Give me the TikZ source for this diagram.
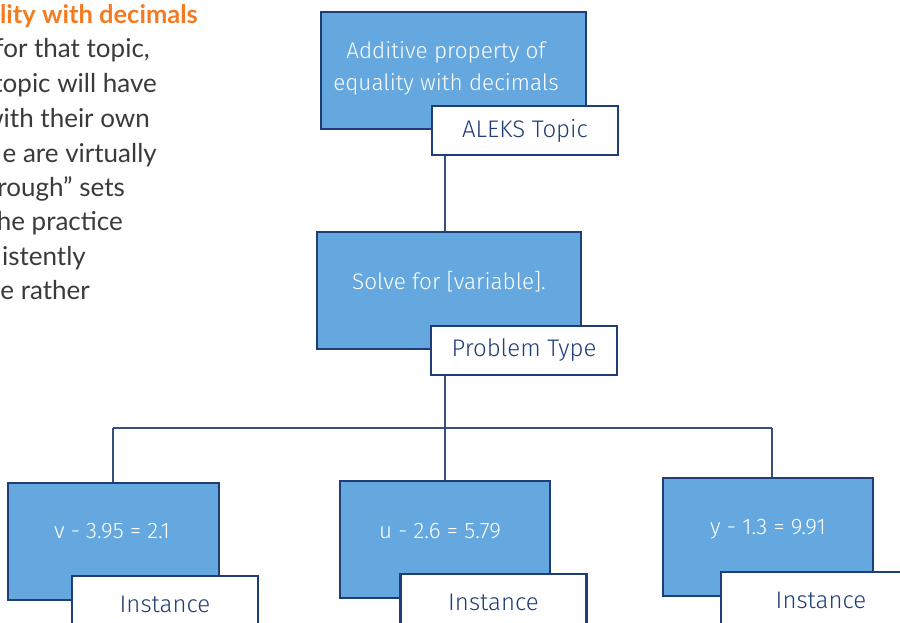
\documentclass[tikz,border=0pt]{standalone}
\usepackage{fontspec}
\setmainfont{Fira Sans}
\newfontfamily\lightfont{Fira Sans Light}
\newfontfamily\latofont{Lato}
\definecolor{boxblue}{HTML}{64A8DF}
\definecolor{navy}{HTML}{1F3E78}
\definecolor{linec}{HTML}{34507F}
\definecolor{orangec}{HTML}{F47B20}
\definecolor{textgray}{HTML}{3A3A3A}
\begin{document}
\begin{tikzpicture}[x=1pt,y=-1pt,
  mainbox/.style={draw=navy, line width=2.8pt, fill=boxblue, inner sep=0pt},
  tagbox/.style={draw=navy, line width=2.8pt, fill=white, inner sep=0pt, text=navy, font=\lightfont\fontsize{24}{28}\selectfont},
  boxtext/.style={text=white, align=center, font=\lightfont\fontsize{22.5}{32}\selectfont},
  conn/.style={draw=linec, line width=1.3pt},
  sidetext/.style={anchor=base east, text=textgray, inner sep=0pt, font=\latofont\fontsize{26}{30}\selectfont},
  sidehead/.style={anchor=base east, text=orangec, inner sep=0pt, font=\latofont\bfseries\fontsize{25.5}{30}\selectfont}
]
\useasboundingbox (0,0) rectangle (900,622);

% side text (cut-off page text)
\node[sidehead] (h0) at (198,23) {lity with decimals};
\node[sidetext] (s1) at (150,57) {for that topic,};
\node[sidetext] (s2) at (157,92) {topic will have};
\node[sidetext] (s3) at (150,127) {with their own};
\node[sidetext] (s4) at (157,162) {e are virtually};
\node[sidetext] (s5) at (125,196) {rough” sets};
\node[sidetext] (s6) at (123,230) {he practice};
\node[sidetext] (s7) at (86,265) {istently};
\node[sidetext] (s8) at (90,299) {e rather};

% junction coordinates
\coordinate (j) at (445,428);
\coordinate (jl) at (113,428);
\coordinate (jr) at (772,428);

% boxes
\node[mainbox, minimum width=265, minimum height=117] (tb) at (453.5,70.5) {};
\node[mainbox, minimum width=264, minimum height=117] (pb) at (449,290.5) {};
\node[mainbox, minimum width=211, minimum height=117] (ib1) at (113.5,541.5) {};
\node[mainbox, minimum width=210, minimum height=117] (ib2) at (445,539.5) {};
\node[mainbox, minimum width=210, minimum height=118] (ib3) at (768,537) {};

% connectors
\draw[conn] (j |- 0,155) -- (j |- pb.north);
\draw[conn] (j |- 0,375) -- (j);
\draw[conn] (jl) -- (jr);
\draw[conn] (jl) -- (jl |- ib1.north);
\draw[conn] (j) -- (j |- ib2.north);
\draw[conn] (jr) -- (jr |- ib3.north);

% box texts
\node[boxtext] (tbt) at (446,68) {Additive property of\\equality with decimals};
\node[boxtext] (pbt) at (449,282) {Solve for [variable].};
\node[boxtext] (ib1t) at (112,531) {v - 3.95 = 2.1};
\node[boxtext] (ib2t) at (440,531) {u - 2.6 = 5.79};
\node[boxtext] (ib3t) at (768,529) {y - 1.3 = 9.91};

% tag boxes
\node[tagbox, minimum width=186, minimum height=49] (tt) at (525,130.5) {ALEKS Topic};
\node[tagbox, minimum width=186, minimum height=49] (pt) at (524,350.5) {Problem Type};
\node[tagbox, minimum width=186, minimum height=60] (it1) at (165,606) {\raisebox{4pt}{Instance}};
\node[tagbox, minimum width=186, minimum height=60] (it2) at (493.5,604) {\raisebox{4pt}{Instance}};
\node[tagbox, minimum width=200, minimum height=60] (it3) at (821,602) {\raisebox{4pt}{Instance}};
\end{tikzpicture}
\end{document}
